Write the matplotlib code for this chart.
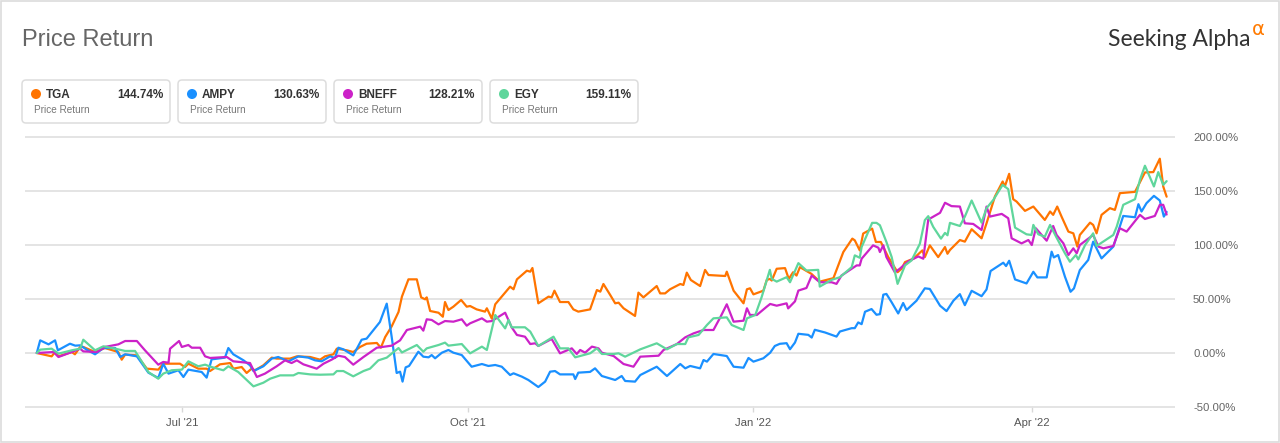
import numpy as np
import pandas as pd
import matplotlib
matplotlib.use("Agg")
import matplotlib.pyplot as plt
from matplotlib.patches import FancyBboxPatch, Circle, Rectangle

plt.rcParams['font.family'] = ['Liberation Sans', 'DejaVu Sans']

# ---------------- data ----------------
start_date = "2021-05-15"
tickers = ["TGA", "AMPY", "BNEFF", "EGY"]
final_returns = [144.74, 130.63, 128.21, 159.11]
colors = ["#ff7400", "#1a90ff", "#cc22c8", "#5fd69c"]
y_ticks = [-50, 0, 50, 100, 150, 200]
x_tick_dates = ["2021-07-01", "2021-10-01", "2022-01-01", "2022-04-01"]
x_tick_labels = ["Jul '21", "Oct '21", "Jan '22", "Apr '22"]

tga_days = [0.0, 4.8, 5.9, 7.0, 11.3, 12.3, 14.0, 15.0, 18.8, 22.0, 26.3, 27.4, 28.5, 32.3, 35.5, 39.2, 40.8, 46.2, 47.8, 48.9,
            52.1, 54.8, 55.9, 59.1, 62.4, 63.4, 66.1, 67.7, 69.3, 70.4, 73.1, 75.8, 77.4, 81.7, 83.9, 88.2, 91.4, 93.0, 95.7, 96.8,
            100.0, 102.1, 104.3, 106.4, 109.7, 111.0, 112.4, 114.5, 116.7, 117.8, 119.9, 122.6, 124.0, 125.3, 125.8, 126.9, 129.6, 131.0, 131.7, 132.8,
            134.4, 136.9, 138.7, 139.8, 141.9, 144.6, 145.2, 146.8, 147.9, 150.0, 152.7, 153.8, 154.9, 158.1, 159.2, 159.9, 161.8, 165.1, 166.1, 167.0,
            168.8, 171.5, 173.1, 174.7, 178.5, 180.7, 181.8, 182.8, 185.0, 186.6, 187.7, 189.3, 193.0, 194.1, 195.7, 200.0, 201.1, 202.7, 204.3, 207.6,
            208.6, 209.7, 211.0, 214.0, 215.6, 216.7, 222.1, 222.6, 224.8, 228.0, 229.1, 230.1, 231.2, 234.4, 235.5, 236.5, 237.1, 238.7, 241.4, 242.6,
            244.0, 245.1, 246.2, 249.9, 252.6, 257.0, 260.2, 263.1, 263.9, 265.5, 266.6, 269.5, 270.7, 272.3, 274.7, 277.7, 279.0, 280.1, 282.8, 285.7,
            286.5, 288.1, 290.8, 293.0, 293.8, 294.6, 297.8, 299.4, 301.6, 304.8, 306.4, 309.1, 311.6, 312.3, 313.7, 315.0, 316.1, 318.8, 321.5, 325.2,
            326.9, 327.9, 329.2, 330.6, 332.8, 334.4, 335.7, 336.5, 339.8, 340.8, 341.9, 343.5, 346.2, 347.8, 349.4, 354.3, 357.5, 360.2, 362.3, 363.4,
            364.5]
tga_ret = [0, -3.1, 0.9, -3.1, 0.9, -1.2, 5.6, 5.6, 0.9, 4.6, 0.9, -6.2, -1.5, -2.2, -14.5, -15.4, -9.9, -9.9, -13.0, -9.9,
           -14.5, -14.5, -16.7, -10.5, -9.3, -14.5, -13.0, -18.5, -14.5, -16.0, -11.4, -4.3, -5.2, -5.2, -3.1, -3.7, -6.2, -3.1, -1.2, 4.0,
           2.5, 0.9, 5.6, 8.6, 9.3, 4.9, 14.8, 24.7, 38.0, 52.2, 68.2, 68.2, 51.5, 49.7, 51.5, 38.9, 37.3, 33.6, 47.2, 39.8,
           42.9, 49.1, 42.9, 43.5, 40.4, 38.3, 41.4, 31.8, 45.1, 52.2, 61.4, 59.0, 68.2, 76.2, 75.3, 78.7, 46.0, 52.2, 51.5, 57.7,
           47.2, 47.2, 40.4, 38.3, 40.4, 58.3, 56.8, 63.9, 53.7, 46.0, 46.6, 41.4, 34.3, 55.9, 51.5, 62.0, 55.2, 55.2, 59.0, 63.9,
           63.0, 74.4, 67.6, 62.0, 76.9, 72.2, 71.3, 75.3, 57.7, 46.0, 59.0, 59.9, 54.3, 57.7, 67.6, 68.6, 67.1, 78.0, 78.6, 68.6,
           74.8, 71.7, 79.5, 73.3, 66.1, 69.3, 93.5, 105.9, 104.3, 95.0, 110.6, 115.2, 102.8, 102.8, 88.8, 74.8, 78.0, 84.2, 87.3, 95.0,
           88.8, 99.7, 88.8, 98.1, 91.9, 95.4, 104.6, 103.1, 114.6, 106.2, 120.1, 144.9, 158.8, 154.2, 165.9, 142.4, 140.2, 131.6, 135.6, 123.2,
           131.0, 127.9, 135.6, 126.3, 112.4, 110.8, 98.5, 109.3, 120.7, 118.6, 110.8, 127.9, 134.1, 132.5, 148.0, 149.2, 167.2, 167.5, 179.9, 154.2,
           144.74]

ampy_days = [0.0, 1.1, 3.8, 5.9, 6.8, 10.7, 12.4, 14.0, 16.1, 18.8, 21.5, 25.3, 26.9, 28.5, 32.3, 36.0, 39.2, 40.8, 42.5, 45.7,
             47.3, 48.9, 53.2, 54.8, 56.4, 60.7, 61.8, 63.4, 66.7, 68.8, 69.9, 73.1, 75.8, 77.9, 81.2, 84.4, 87.6, 89.8, 91.9, 94.6,
             96.2, 97.3, 98.9, 102.1, 104.8, 106.4, 110.7, 112.9, 114.5, 116.1, 117.2, 118.0, 119.0, 120.1, 123.1, 124.7, 126.4, 127.4, 128.5, 130.7,
             132.8, 134.4, 137.1, 140.3, 143.6, 145.7, 147.9, 150.0, 152.7, 153.8, 156.5, 158.6, 161.8, 164.0, 165.6, 167.2, 168.8, 173.1, 173.7, 174.7,
             178.5, 180.1, 182.3, 186.6, 188.7, 189.8, 193.0, 194.7, 200.0, 203.3, 207.6, 209.2, 210.8, 214.0, 215.1, 216.2, 218.3, 222.6, 224.8, 228.0,
             229.6, 231.2, 234.4, 236.6, 238.1, 239.7, 241.9, 243.0, 244.6, 245.7, 248.9, 250.0, 251.0, 254.3, 258.0, 259.1, 262.9, 263.9, 265.0, 266.1,
             267.2, 269.3, 270.9, 272.0, 273.1, 274.1, 275.8, 277.9, 279.5, 280.6, 283.8, 286.5, 288.1, 291.4, 293.5, 295.7, 297.8, 299.4, 301.6, 304.8,
             306.4, 307.7, 311.8, 312.7, 313.7, 315.6, 319.3, 321.5, 322.8, 325.8, 327.4, 328.1, 329.5, 331.7, 333.5, 334.6, 336.5, 339.2, 340.8, 343.5,
             346.2, 347.3, 350.5, 354.3, 355.4, 356.4, 358.0, 360.4, 362.3, 363.6, 364.5]
ampy_ret = [0, 11.7, 8.0, 11.7, 2.5, 8.6, 6.8, 7.1, 3.1, -1.2, 4.6, 4.6, -3.7, -1.2, -3.1, -18.2, -23.1, -9.9, -19.1, -16.0,
            -22.2, -15.4, -17.6, -22.8, -5.9, -4.3, 4.6, -1.2, -6.8, -11.4, -16.7, -12.3, -5.2, -3.7, -7.7, -3.1, -4.3, -6.8, -7.7, -3.1,
            -4.6, 4.9, 3.4, -2.2, 12.3, 13.3, 28.7, 45.7, 14.8, -18.5, -17.3, -26.5, -13.3, -12.0, 1.2, -3.4, -4.0, -1.9, -4.9, 0.3,
            2.8, 0.3, -1.9, -12.7, -10.2, -12.0, -11.1, -12.7, -20.4, -18.8, -21.9, -25.0, -31.5, -26.5, -17.3, -16.7, -19.8, -19.8, -24.1, -18.2,
            -17.5, -14.2, -21.3, -25.0, -21.3, -25.9, -26.5, -20.4, -12.7, -21.3, -10.2, -14.2, -12.0, -14.2, -6.5, -8.0, -0.9, -2.8, -12.7, -13.6,
            -4.6, -8.0, -4.9, 0.3, 6.5, 8.5, 9.1, 3.5, 9.7, 17.8, 16.8, 14.3, 21.5, 19.0, 15.2, 19.9, 23.0, 23.0, 28.3, 26.7,
            38.2, 40.7, 35.4, 36.0, 54.0, 54.7, 46.9, 36.6, 46.3, 39.8, 48.4, 59.9, 59.3, 43.8, 38.8, 48.4, 54.5, 44.3, 57.6, 52.6,
            58.8, 75.9, 83.6, 80.5, 85.4, 68.1, 64.4, 75.2, 70.0, 70.0, 93.8, 88.5, 90.7, 70.6, 56.7, 59.8, 76.8, 86.1, 103.1, 87.6,
            95.4, 98.5, 126.9, 125.7, 137.8, 131.0, 138.7, 145.5, 141.2, 126.3, 130.63]

bneff_days = [0.0, 5.4, 7.0, 11.3, 14.0, 15.0, 19.4, 22.0, 26.3, 28.5, 32.3, 34.9, 39.2, 40.8, 42.5, 43.0, 45.9, 46.8, 48.9, 50.0,
              52.7, 54.3, 55.9, 61.3, 63.4, 68.8, 71.0, 73.6, 77.4, 80.1, 82.2, 83.9, 86.0, 90.3, 92.5, 95.1, 97.3, 99.4, 102.1, 105.4,
              109.7, 114.5, 117.2, 119.4, 123.7, 124.7, 125.8, 127.4, 129.6, 131.7, 134.4, 137.1, 138.7, 139.8, 143.6, 145.2, 146.8, 151.1, 153.2, 154.9,
              157.5, 159.2, 160.8, 161.8, 166.1, 168.8, 172.6, 174.2, 175.3, 176.9, 178.5, 179.1, 181.2, 182.3, 186.1, 189.3, 192.5, 194.7, 200.6, 202.2,
              206.5, 209.2, 211.9, 215.1, 218.3, 220.5, 222.6, 224.8, 228.0, 229.1, 230.1, 232.3, 235.5, 236.6, 238.7, 241.9, 242.4, 244.6, 245.7, 248.3,
              250.0, 252.6, 256.4, 258.0, 259.6, 264.5, 265.5, 266.1, 269.8, 271.5, 272.0, 273.1, 274.1, 276.8, 278.4, 281.1, 284.4, 286.0, 287.6, 291.4,
              293.0, 295.1, 297.8, 299.4, 302.1, 304.8, 306.4, 307.5, 311.3, 313.4, 314.5, 317.7, 319.9, 321.0, 322.3, 325.8, 327.9, 329.0, 331.2, 332.8,
              334.4, 335.5, 336.5, 340.8, 342.5, 344.1, 347.3, 349.4, 351.6, 355.9, 357.5, 360.7, 362.3, 363.4, 364.5]
bneff_ret = [0, 0.9, -3.7, 0.9, 4.0, 1.5, 0.9, 5.6, 8.0, 11.1, 11.1, 2.5, -10.8, -8.3, -9.0, 4.0, 11.1, 5.6, 7.4, 4.9,
             4.9, -3.1, -4.6, -3.7, -7.7, -9.3, -22.2, -19.1, -12.3, -6.8, -9.3, -6.8, -10.5, -14.5, -9.9, -6.2, -2.5, -3.7, -10.8, -3.7,
             4.9, 6.8, 11.7, 21.3, 24.4, 20.7, 31.2, 30.6, 26.5, 29.6, 29.0, 31.2, 25.3, 27.5, 32.1, 29.0, 29.6, 37.3, 23.8, 16.7,
             15.1, 8.3, 9.0, 6.5, 13.0, -0.3, 4.3, -0.9, 2.8, 0.3, 4.3, 5.9, 4.3, 0.3, -2.8, -10.2, -12.7, -3.4, -2.5, 2.8,
             8.3, 14.5, 18.2, 21.3, 21.3, 33.0, 45.1, 29.0, 29.9, 41.4, 35.2, 35.2, 42.9, 45.4, 43.8, 46.0, 41.3, 47.8, 57.8, 60.2,
             71.7, 65.5, 65.5, 64.0, 71.7, 81.1, 81.1, 87.3, 99.7, 97.5, 93.5, 99.7, 88.8, 74.8, 78.0, 84.8, 89.4, 87.3, 123.6, 129.8,
             139.1, 136.0, 135.6, 120.1, 119.5, 113.9, 135.6, 126.3, 128.8, 124.8, 106.2, 101.5, 104.6, 100.0, 115.5, 104.0, 117.6, 109.3, 101.5, 90.7,
             96.9, 92.3, 100.0, 109.3, 98.5, 96.9, 99.1, 115.5, 112.4, 127.9, 124.1, 126.9, 137.2, 137.2, 128.21]

egy_days = [0.0, 1.1, 4.8, 7.0, 11.3, 14.0, 15.0, 18.8, 21.5, 25.3, 28.5, 31.7, 36.0, 39.2, 40.8, 43.5, 46.8, 48.9, 52.1, 54.3,
            56.4, 60.2, 61.8, 65.0, 69.9, 73.1, 75.3, 78.5, 82.8, 84.4, 88.2, 91.4, 95.7, 96.8, 98.9, 102.1, 105.4, 107.5, 110.2, 112.9,
            116.7, 117.8, 122.6, 124.7, 125.8, 129.6, 131.7, 132.8, 137.1, 139.8, 143.6, 145.2, 147.9, 151.1, 152.2, 153.2, 157.5, 159.2, 161.8, 166.7,
            168.8, 171.5, 173.7, 178.5, 180.7, 182.3, 186.1, 187.7, 189.8, 194.7, 200.0, 203.3, 206.5, 209.2, 210.2, 213.5, 216.2, 218.3, 222.6, 224.2,
            228.0, 229.1, 231.8, 233.9, 236.5, 237.1, 238.7, 241.9, 243.0, 245.7, 248.3, 252.1, 252.6, 256.4, 259.1, 262.9, 263.9, 265.5, 266.1, 269.5,
            270.9, 272.0, 274.1, 275.8, 277.7, 280.1, 282.2, 284.9, 286.5, 287.6, 289.2, 291.7, 293.0, 293.8, 294.6, 297.8, 299.4, 301.6, 304.8, 306.4,
            308.6, 311.6, 313.4, 315.6, 319.3, 320.9, 321.5, 323.1, 325.2, 326.9, 329.0, 331.7, 333.3, 335.2, 336.0, 338.2, 340.8, 341.9, 347.3, 348.4,
            350.5, 354.3, 355.9, 357.5, 360.4, 361.8, 363.4, 364.5]
egy_ret = [0, 3.1, 4.0, -0.6, 2.5, 4.0, 12.3, 2.5, 6.2, 4.0, 1.9, 1.9, -17.6, -23.8, -19.1, -16.0, -15.4, -7.7, -12.3, -10.8,
           -13.0, -16.0, -12.3, -17.6, -30.9, -27.5, -23.8, -20.7, -20.7, -18.5, -19.8, -20.1, -19.8, -16.7, -16.7, -21.6, -16.7, -14.5, -6.8, -4.3,
           4.6, 0.5, 7.4, 1.2, 4.3, 7.4, 9.6, 6.8, 8.3, -0.3, 5.9, 2.8, 35.2, 22.8, 30.6, 23.8, 23.8, 19.8, 6.5, 15.1,
           4.3, 4.3, -4.0, -0.3, 4.3, -0.9, -0.9, -0.3, -3.4, 3.4, 9.0, 3.4, 8.3, 8.3, 14.5, 16.7, 25.9, 32.1, 33.0, 25.9,
           21.3, 32.1, 35.2, 52.2, 77.0, 68.6, 66.1, 70.2, 65.5, 83.2, 76.4, 77.0, 61.5, 67.7, 70.2, 79.5, 90.4, 88.2, 98.1, 120.5,
           120.5, 118.3, 102.8, 88.8, 64.0, 81.1, 85.7, 101.2, 123.0, 126.7, 116.8, 105.9, 111.2, 109.0, 120.5, 117.6, 126.3, 141.2, 120.7, 134.1,
           141.8, 155.7, 151.7, 116.1, 109.9, 109.3, 118.6, 109.9, 107.7, 118.6, 106.8, 92.3, 84.5, 90.7, 86.7, 100.0, 110.8, 99.1, 109.3, 117.0,
           137.2, 142.4, 160.4, 173.4, 154.2, 167.5, 155.7, 159.11]

series_days = [tga_days, ampy_days, bneff_days, egy_days]
series_ret = [tga_ret, ampy_ret, bneff_ret, egy_ret]

# ---------------- figure ----------------
W, H = 1280, 443
fig = plt.figure(figsize=(W / 100, H / 100), dpi=100)
fig.patch.set_facecolor("white")

# overlay for header / legend cards (pixel coordinates)
ov = fig.add_axes([0, 0, 1, 1])
ov.set_xlim(0, W)
ov.set_ylim(H, 0)
ov.axis("off")

ov.add_patch(Rectangle((0.5, 0.5), W - 1.5, H - 1.5, fill=False, ec="#dcdcdc", lw=1.2))

ov.text(22, 40, "Price Return", fontsize=17, color="#666666", va="center", ha="left")

ov.text(1251, 39, "Seeking Alpha", fontsize=16.5, color="#333333", va="center", ha="right",
        family=["Lato", "DejaVu Sans"], fontweight="normal")
ov.text(1252, 29, "α", fontsize=14, color="#ff7a00", va="center", ha="left", family=["DejaVu Sans"])

card_w, card_h, card_gap = 148, 43, 8
for i, (tk, val, col) in enumerate(zip(tickers, final_returns, colors)):
    x0 = 22 + i * (card_w + card_gap)
    ov.add_patch(FancyBboxPatch((x0, 80), card_w, card_h,
                                boxstyle="round,pad=0,rounding_size=4",
                                ec="#dddddd", fc="white", lw=1.1))
    ov.add_patch(Circle((x0 + 14, 94), 4.3, color=col))
    ov.text(x0 + 24, 94.5, tk, fontsize=8.5, fontweight="bold", color="#333333", va="center", ha="left")
    ov.text(x0 + 141, 94.5, f"{val:.2f}%", fontsize=8.5, fontweight="bold", color="#333333",
            va="center", ha="right")
    ov.text(x0 + 12, 110, "Price Return", fontsize=7.2, color="#777777", va="center", ha="left")

# main chart axes
ax_top_px, ax_bot_px = 130, 412
ax = fig.add_axes([25 / W, 1 - ax_bot_px / H, 1150 / W, (ax_bot_px - ax_top_px) / H])
ax.set_facecolor("none")

start = pd.Timestamp(start_date)
for days, ret, col in zip(series_days, series_ret, colors):
    dates = start + pd.to_timedelta(np.array(days), unit="D")
    ax.plot(dates, ret, color=col, lw=1.6, solid_joinstyle="round", solid_capstyle="round")

ax.set_xlim(start - pd.Timedelta(days=3.8), start + pd.Timedelta(days=367.2))
px_per_pct = 270 / 250
ax.set_ylim(-50 - 5 / px_per_pct, 200 + 7 / px_per_pct)

ax.set_yticks(y_ticks)
ax.set_yticklabels([f"{v:.2f}%" for v in y_ticks])
ax.yaxis.tick_right()
ax.tick_params(axis="y", length=0, pad=13, labelsize=8.2, labelcolor="#666666")
ax.grid(axis="y", color="#e2e2e2", lw=1.3)
ax.set_axisbelow(True)

ax.set_xticks(pd.to_datetime(x_tick_dates))
ax.set_xticklabels(x_tick_labels)
ax.tick_params(axis="x", direction="in", length=4, width=1, color="#d8d8d8", pad=4,
               labelsize=8.2, labelcolor="#555555")

for s in ax.spines.values():
    s.set_visible(False)

fig.savefig("out.png", dpi=100, facecolor="white")
